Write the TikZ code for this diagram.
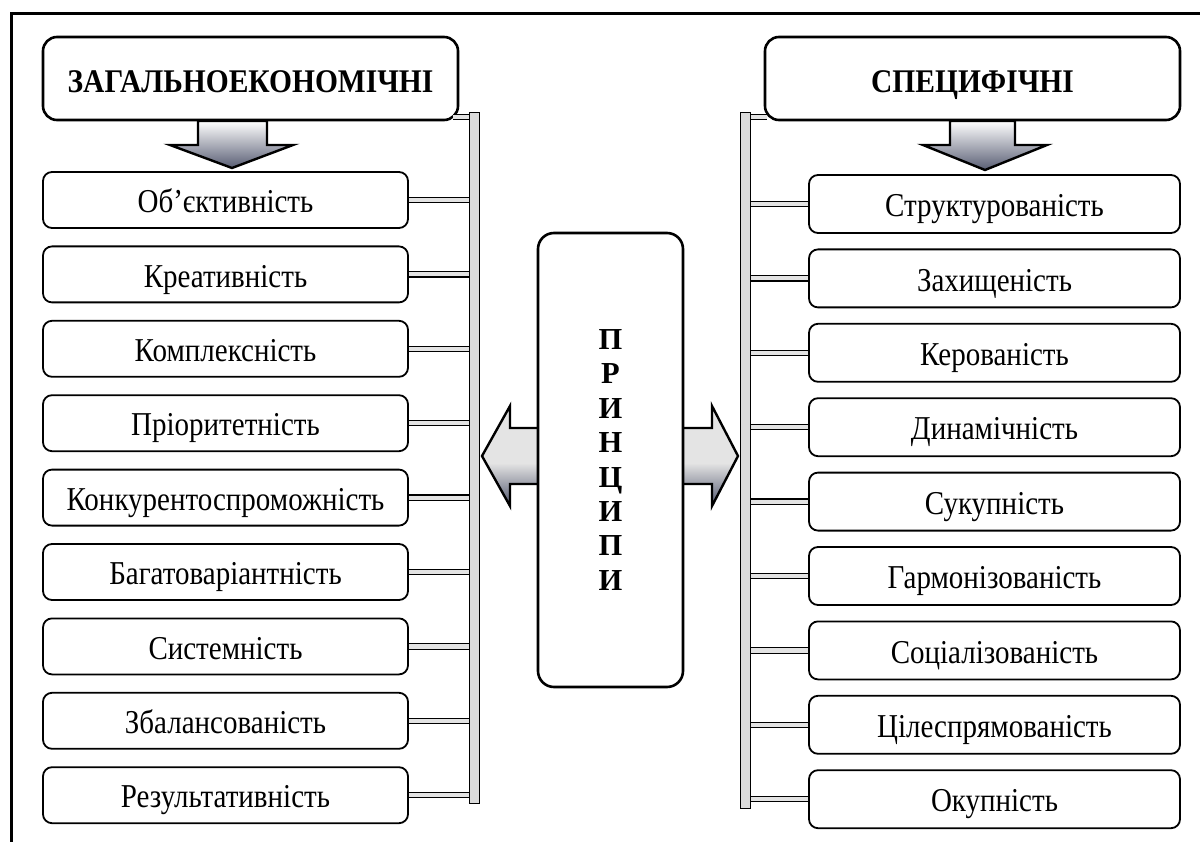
\documentclass[tikz,border=0pt]{standalone}
\usepackage{fontspec}
\setmainfont{Liberation Serif}
\newcommand{\vstr}[2][1.15]{\scalebox{1}[#1]{#2}}
\definecolor{arrdark}{RGB}{88,93,115}
\definecolor{arrlight}{RGB}{228,228,228}
\begin{document}
\begin{tikzpicture}[x=1pt,y=-1pt,
  lbox/.style={draw, line width=1.8pt, rounded corners=9pt, minimum width=365pt, minimum height=56pt, inner sep=0pt, text height=25.5pt, text depth=0pt, font=\fontsize{29}{32}\selectfont},
  rbox/.style={lbox, minimum width=371pt, minimum height=58pt},
  hbox/.style={draw, line width=2.6pt, rounded corners=14pt, minimum width=415pt, minimum height=83pt, inner sep=0pt, text height=28pt, text depth=0pt, font=\fontsize{29.5}{32}\selectfont\bfseries},
  cbox/.style={draw, fill=white, line width=2.6pt, rounded corners=16pt, minimum width=145pt, minimum height=454pt, inner sep=0pt, align=center, font=\fontsize{30.5}{34.4}\selectfont\bfseries},
  vbar/.style={draw, fill=gray!28, line width=1pt, inner sep=0pt, minimum width=10pt},
  rail/.style={draw, line width=1.1pt, double=gray!22, double distance=4.2pt},
  barrow/.style={draw, line width=2.4pt, line join=miter, top color=white, middle color=gray!20, bottom color=arrdark},
  aline/.style={draw, line width=2.4pt, line join=miter}
]
\useasboundingbox (0,0) rectangle (1200,842);
% frame (left and top only)
\draw[line width=3pt] (11.5,842) -- (11.5,13.5) -- (1200,13.5);

% headers
\node[hbox] (lh) at (250.5,78.5) {\vstr[1.12]{ЗАГАЛЬНОЕКОНОМІЧНІ}};
\node[hbox] (rh) at (972.5,78.5) {\vstr[1.12]{СПЕЦИФІЧНІ}};

% down arrows
\draw[barrow] (198,121) -- (267,121) -- (267,145) -- (293,145) -- (232,168) -- (170,145) -- (198,145) -- cycle;
\draw[barrow] (950,121) -- (1015,121) -- (1015,145) -- (1047,145) -- (985,170) -- (923,145) -- (950,145) -- cycle;

% vertical bars
\node[vbar, minimum height=690pt] (lbar) at (474,458) {};
\node[vbar, minimum height=695pt] (rbar) at (745,460.5) {};

% stubs from headers to bars
\draw[rail] ([xshift=-6pt,yshift=4pt]lh.south east) -- ([yshift=4pt]lh.south east -| lbar.west);
\draw[rail] ([xshift=3pt,yshift=4pt]rh.south west) -- ([yshift=4pt]rh.south west -| rbar.east);

% left items
\foreach \i/\t in {0/Об’єктивність,1/Креативність,2/Комплексність,3/Пріоритетність,4/Конкурентоспроможність,5/Багатоваріантність,6/Системність,7/Збалансованість,8/Результативність}{
  \node[lbox] (l\i) at (225.5,{200+74.4*\i}) {\vstr{\t}};
  \draw[rail] (l\i.east) -- (l\i.east -| lbar.west);
}
% right items
\foreach \i/\t in {0/Структурованість,1/Захищеність,2/Керованість,3/Динамічність,4/Сукупність,5/Гармонізованість,6/Соціалізованість,7/Цілеспрямованість,8/Окупність}{
  \node[rbox] (r\i) at (994.5,{204+74.4*\i}) {\vstr{\t}};
  \draw[rail] (r\i.west) -- (r\i.west -| rbar.east);
}

% side arrows
\def\leftarr{(539,428) -- (510,428) -- (510,406) -- (482,456) -- (510,506) -- (510,484) -- (539,484) -- cycle}
\def\rightarr{(682,428) -- (712,428) -- (712,406) -- (738,456) -- (712,506) -- (712,484) -- (682,484) -- cycle}
\begin{scope}
  \clip \leftarr;
  \fill[arrlight] (470,400) rectangle (545,464);
  \shade[top color=arrlight, bottom color=arrdark] (470,463) rectangle (545,504);
  \fill[arrdark] (470,503.5) rectangle (545,510);
\end{scope}
\begin{scope}
  \clip \rightarr;
  \fill[arrlight] (675,400) rectangle (745,464);
  \shade[top color=arrlight, bottom color=arrdark] (675,463) rectangle (745,504);
  \fill[arrdark] (675,503.5) rectangle (745,510);
\end{scope}
\draw[aline] \leftarr;
\draw[aline] \rightarr;

% central box
\node[cbox] (c) at (610.5,460) {П\\Р\\И\\Н\\Ц\\И\\П\\И};
\end{tikzpicture}
\end{document}
